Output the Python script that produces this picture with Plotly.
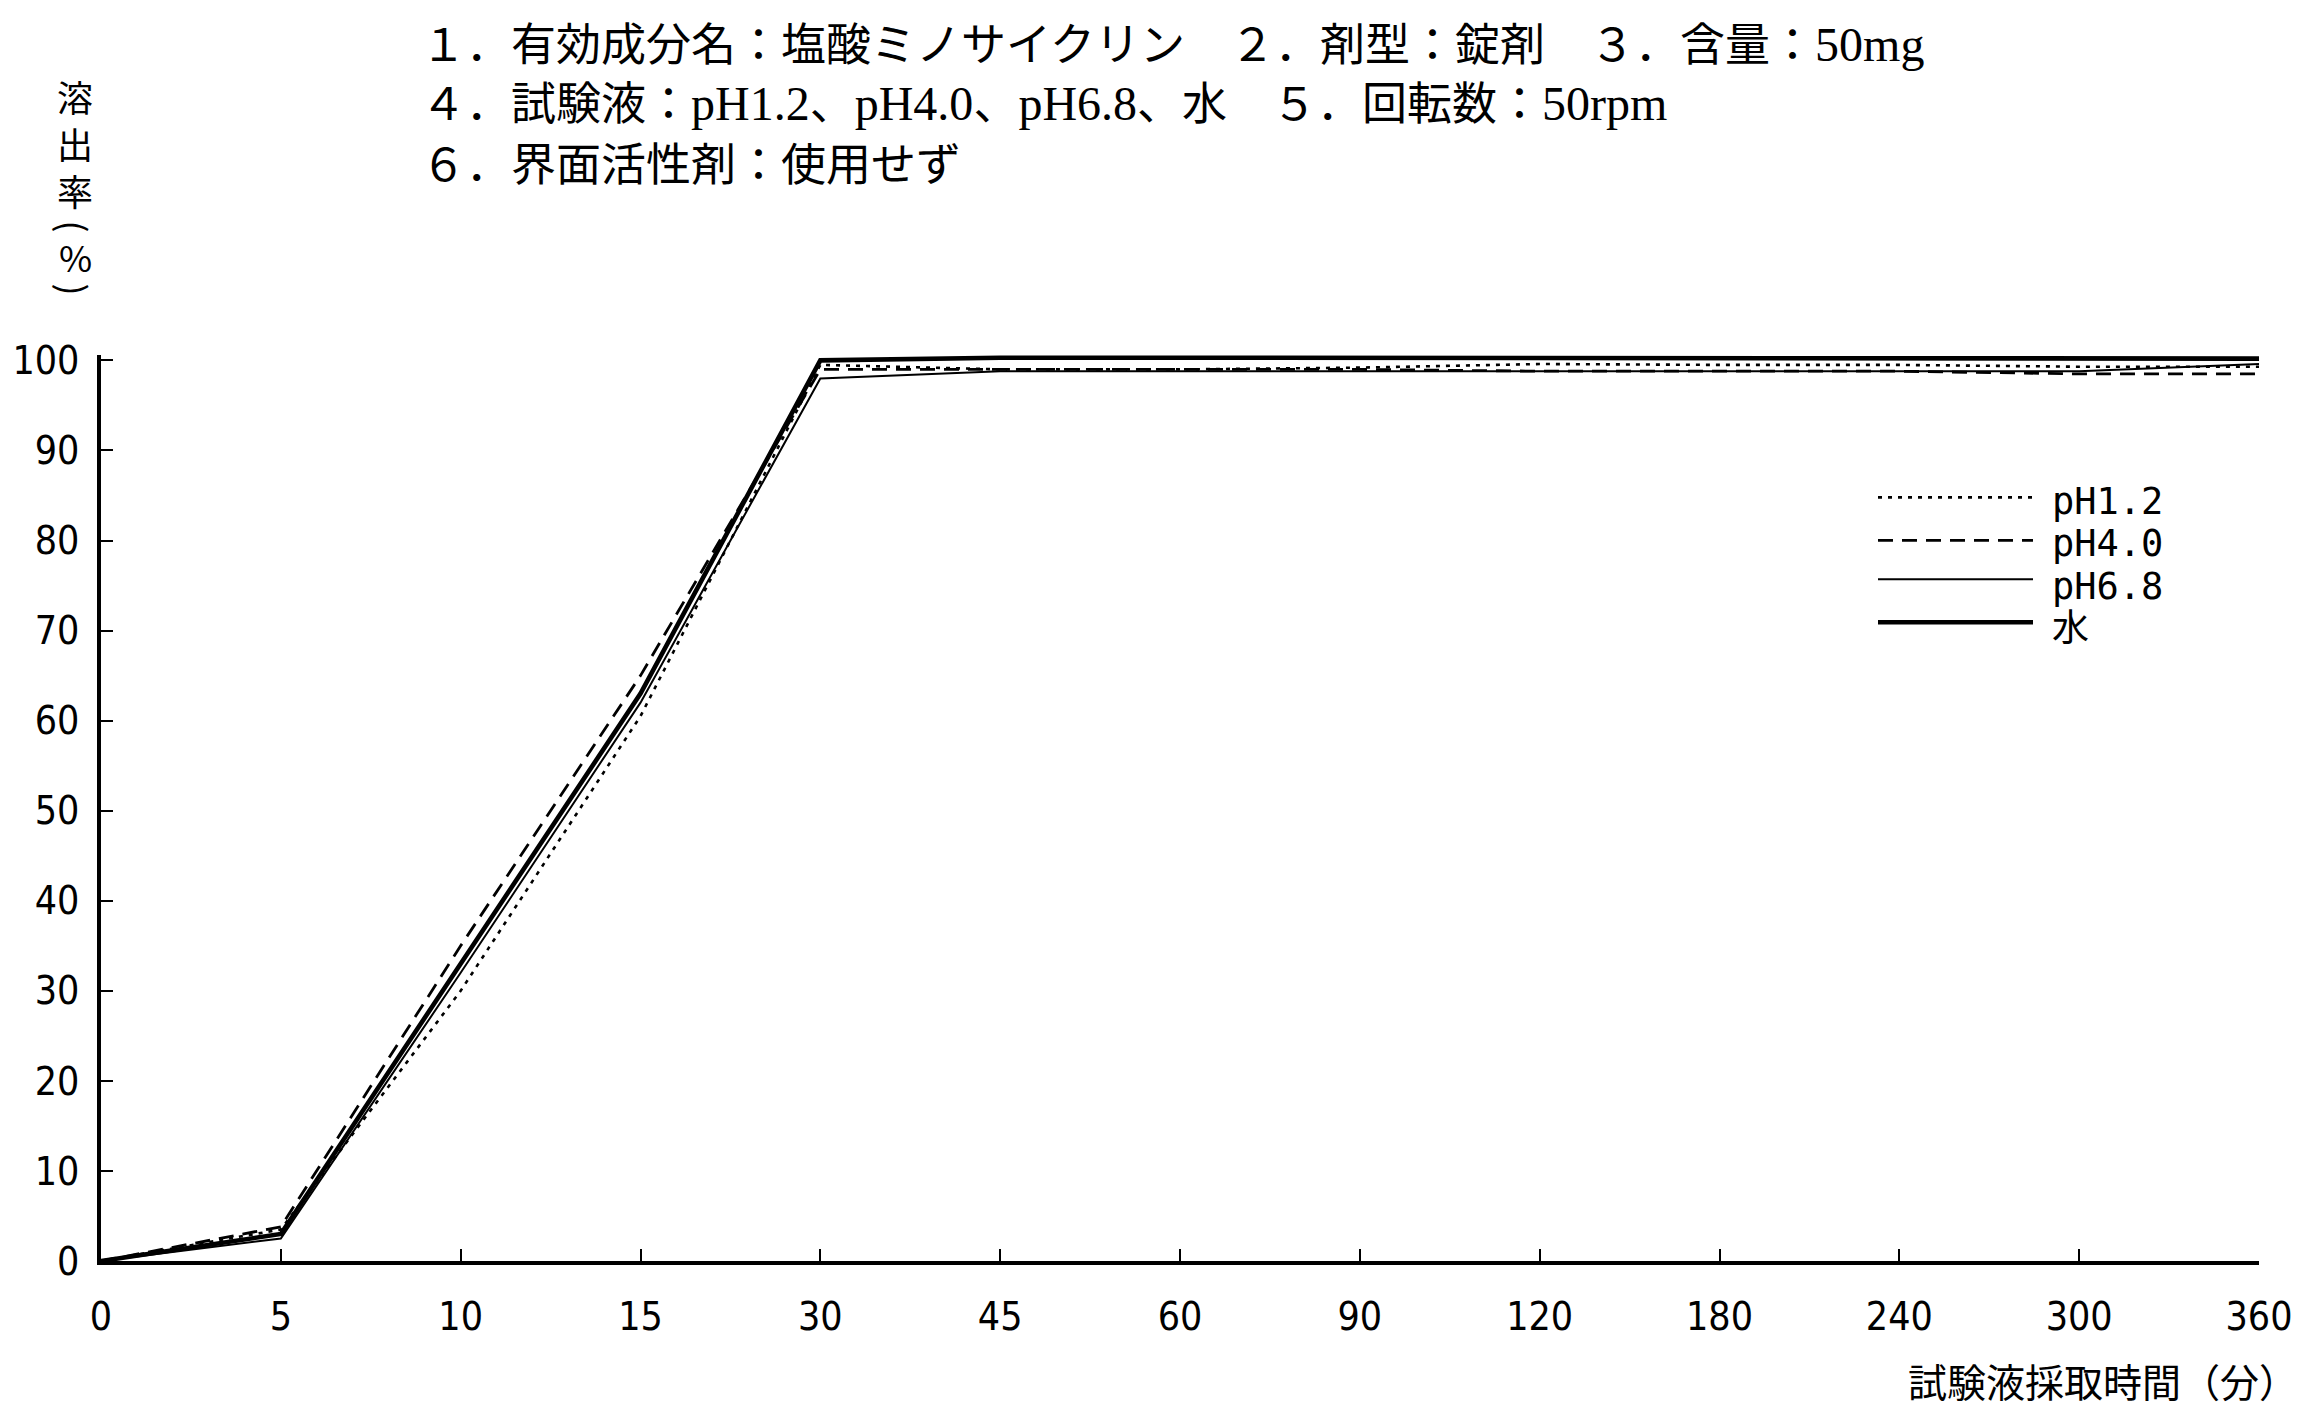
import plotly.graph_objects as go

# ---- data ----
time_labels = ["0", "5", "10", "15", "30", "45", "60", "90", "120", "180", "240", "300", "360"]
ph12 = [0, 3.5, 30, 60.5, 99.5, 99.0, 99.0, 99.2, 99.6, 99.5, 99.5, 99.3, 99.3]
ph40 = [0, 3.8, 35, 65, 99.0, 99.0, 99.0, 99.0, 98.8, 98.8, 98.8, 98.5, 98.5]
ph68 = [0, 2.5, 32, 62, 98.0, 98.8, 98.8, 98.8, 98.8, 98.8, 98.8, 98.8, 99.6]
water = [0, 3.0, 33, 63, 100.0, 100.3, 100.3, 100.3, 100.3, 100.3, 100.3, 100.3, 100.2]
y_ticks = [0, 10, 20, 30, 40, 50, 60, 70, 80, 90, 100]
legend_names = ["pH1.2", "pH4.0", "pH6.8", "水"]

styles = [
    dict(width=2.6, dash="4px,6px"),
    dict(width=2.8, dash="15px,9px"),
    dict(width=2.0, dash="solid"),
    dict(width=4.6, dash="solid"),
]
series = list(zip(legend_names, [ph12, ph40, ph68, water], styles))

# page body has an 8px margin: work in target-page pixels and offset
OFF = 8
W, H = 2313 - 2 * OFF, 1417 - 2 * OFF
# target plot box (page pixels)
TL, TR, TB = 101, 2259, 1261
YMAX = 100.6
TT = TB - (TB - 360) * YMAX / 100.0
L, R, T, B = TL - OFF, TR - OFF, TT - OFF, TB - OFF

def px(xp):
    return (xp - OFF - L) / (R - L)

def py(yp):
    return (B - (yp - OFF)) / (B - T)

fig = go.Figure()
xidx = list(range(len(time_labels)))
for name, vals, ls in series:
    fig.add_trace(go.Scatter(x=xidx, y=vals, mode="lines", name=name,
                             line=dict(color="black", **ls), showlegend=False))

tick_font = dict(family="Liberation Sans Narrow, DejaVu Sans Condensed, Liberation Sans, sans-serif",
                 size=39, color="black")
fig.update_xaxes(range=[0, len(time_labels) - 1], tickmode="array", tickvals=xidx,
                 ticktext=time_labels, showgrid=False, zeroline=False, automargin=False,
                 showline=True, linecolor="black", linewidth=3.5,
                 ticks="inside", ticklen=12, tickwidth=2, tickcolor="black",
                 tickfont=tick_font, ticklabelstandoff=18)
fig.update_yaxes(range=[0, YMAX], tickmode="array", tickvals=y_ticks,
                 showgrid=False, zeroline=False, automargin=False,
                 showline=True, linecolor="black", linewidth=3.5,
                 ticks="inside", ticklen=12, tickwidth=2, tickcolor="black",
                 tickfont=tick_font, ticklabelstandoff=10)

annotations = []
hdr_font = dict(family="Noto Sans CJK JP", size=45, color="black")

def latin(s):
    return '<span style="font-family:Liberation Serif;font-size:48px">' + s + '</span>'

header = [
    ("１．有効成分名：塩酸ミノサイクリン　２．剤型：錠剤　３．含量：" + latin("50mg"), 41),
    ("４．試験液：" + latin("pH1.2") + "、" + latin("pH4.0") + "、" + latin("pH6.8")
     + "、水　５．回転数：" + latin("50rpm"), 100),
    ("６．界面活性剤：使用せず", 161),
]
for txt, yc in header:
    annotations.append(dict(text=txt, xref="paper", yref="paper", x=px(419), y=py(yc),
                            xanchor="left", yanchor="middle", showarrow=False, font=hdr_font))

# vertical y-axis title
annotations.append(dict(text="溶<br>出<br>率", xref="paper", yref="paper",
                        x=px(75), y=py(142), xanchor="center", yanchor="middle", showarrow=False,
                        font=dict(family="Noto Sans CJK JP", size=36, color="black")))
for ch, yc, ang in [("(", 226, 90), ("%", 256, 0), (")", 289, 90)]:
    annotations.append(dict(text=ch, xref="paper", yref="paper", textangle=ang,
                            x=px(75), y=py(yc), xanchor="center", yanchor="middle", showarrow=False,
                            font=dict(family="Noto Sans CJK JP", size=36, color="black")))
annotations.append(dict(text="試験液採取時間（分）", xref="paper", yref="paper",
                        x=px(2300), y=py(1380), xanchor="right", yanchor="middle", showarrow=False,
                        font=dict(family="Noto Sans CJK JP", size=39, color="black")))

# manual legend
shapes = []
leg_rows = [497, 540, 579, 622]
label_rows = [501, 543, 586, 628]
for (name, vals, ls), yr, yl in zip(series, leg_rows, label_rows):
    shapes.append(dict(type="line", xref="paper", yref="paper", x0=px(1878), x1=px(2033),
                       y0=py(yr), y1=py(yr), line=dict(color="black", **ls)))
    annotations.append(dict(text=name, xref="paper", yref="paper", x=px(2050), y=py(yl),
                            xanchor="left", yanchor="middle", showarrow=False,
                            font=dict(family="DejaVu Sans Mono, Noto Sans CJK JP", size=37, color="black")))

fig.update_layout(width=W, height=H, paper_bgcolor="white", plot_bgcolor="white",
                  margin=dict(l=L, r=W - R, t=T, b=H - B, pad=0, autoexpand=False),
                  annotations=annotations, shapes=shapes, showlegend=False)

fig.write_html("out.html")
